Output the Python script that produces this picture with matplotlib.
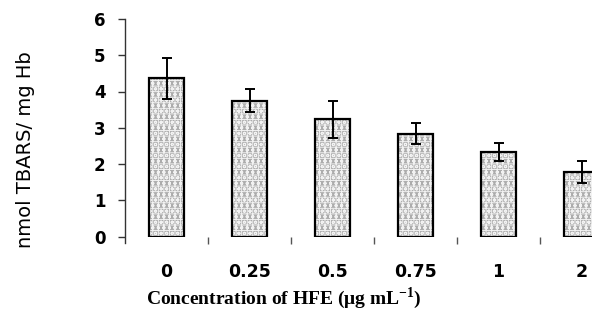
import matplotlib
matplotlib.use("Agg")
import matplotlib.pyplot as plt
import numpy as np

# data
concentrations = ['0', '0.25', '0.5', '0.75', '1', '2']
tbars = [4.36, 3.75, 3.23, 2.83, 2.34, 1.77]
tbars_err = [0.57, 0.32, 0.51, 0.29, 0.25, 0.30]
y_ticks = [0, 1, 2, 3, 4, 5, 6]

plt.rcParams['hatch.linewidth'] = 0.7
plt.rcParams['mathtext.fontset'] = 'custom'
plt.rcParams['mathtext.rm'] = 'Liberation Serif'
plt.rcParams['mathtext.bf'] = 'Liberation Serif:bold'

W, H = 592, 311
fig = plt.figure(figsize=(W / 100, H / 100), dpi=100)
# axes runs off the right edge like the cropped original
ax = fig.add_axes([125 / W, (H - 236.5) / H, 498 / W, 217.5 / H])

x = np.arange(len(concentrations))
bar_w = 0.41

# patterned fill, then a black outline on top
ax.bar(x, tbars, width=bar_w, color='#acacac', edgecolor='#f2f2f2',
       hatch='ooo+++', linewidth=0, zorder=2)
ax.bar(x, tbars, width=bar_w, fill=False, edgecolor='black',
       linewidth=1.6, zorder=3)
ax.errorbar(x, tbars, yerr=tbars_err, fmt='none', ecolor='black',
            elinewidth=1.4, capsize=3.8, capthick=1.4, zorder=4)

ax.set_xlim(-0.5, len(concentrations) - 0.5)
ax.set_ylim(0, 6)

for s in ['top', 'right', 'bottom']:
    ax.spines[s].set_visible(False)
ax.spines['left'].set_color('#333333')
ax.spines['left'].set_linewidth(1.0)
ax.spines['left'].set_bounds(-0.18, 6)

ax.set_yticks(y_ticks)
ax.set_yticklabels([str(t) for t in y_ticks], fontsize=12,
                   fontweight='bold', family='DejaVu Sans')
ax.tick_params(axis='y', direction='out', length=5, width=1,
               color='#333333', pad=9)

ax.set_xticks(x)
ax.set_xticklabels(concentrations, fontsize=12.5, fontweight='bold',
                   family='DejaVu Sans')
ax.tick_params(axis='x', which='major', length=0, pad=19)
ax.set_xticks(x[:-1] + 0.5, minor=True)
ax.tick_params(axis='x', which='minor', direction='out', length=5,
               width=1, color='#555555')

fig.text(26 / W, 1 - 150 / H, 'nmol TBARS/ mg Hb', rotation=90,
         ha='center', va='center', fontsize=14, family='DejaVu Sans')
fig.text(284 / W, 1 - 298 / H, 'Concentration of HFE (μg mL$^{\\mathbf{-1}}$)',
         ha='center', va='center', fontsize=14, fontweight='bold',
         family='Liberation Serif')

fig.savefig('out.png', dpi=100)
